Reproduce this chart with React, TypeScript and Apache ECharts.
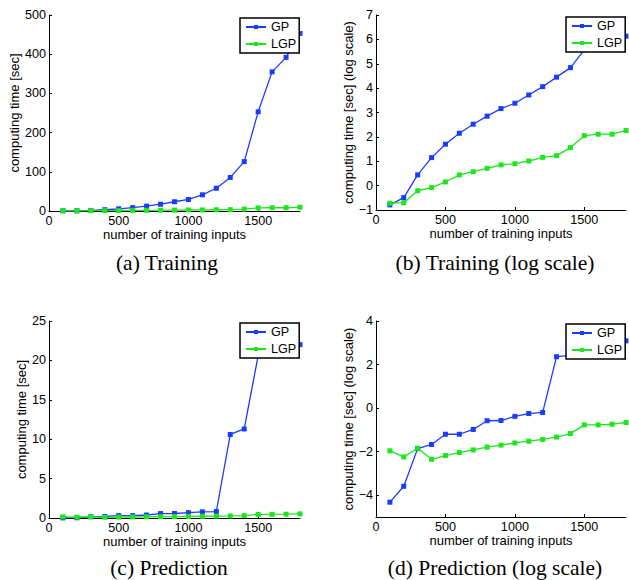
import React, { useEffect, useRef } from "react";
import * as echarts from "echarts";

const inputs = [100, 200, 300, 400, 500, 600, 700, 800, 900, 1000, 1100, 1200, 1300, 1400, 1500, 1600, 1700, 1800];

const trainGP = [0.5, 0.6, 1.5, 3.2, 5.5, 8.6, 12.4, 17.3, 23.6, 29.4, 41.3, 58, 85.6, 126, 253, 355, 392, 453];
const trainLGP = [0.5, 0.5, 0.8, 0.9, 1.2, 1.6, 1.8, 2.0, 2.3, 2.5, 2.7, 3.2, 3.4, 4.8, 7.8, 8.3, 8.3, 9.5];

const trainGPLog = [-0.79, -0.49, 0.44, 1.15, 1.7, 2.15, 2.52, 2.85, 3.16, 3.38, 3.72, 4.06, 4.45, 4.84, 5.57, 5.87, 5.97, 6.13];
const trainLGPLog = [-0.72, -0.7, -0.21, -0.08, 0.15, 0.44, 0.57, 0.71, 0.85, 0.9, 1.01, 1.16, 1.23, 1.56, 2.05, 2.11, 2.11, 2.26];

const predGP = [0.013, 0.028, 0.16, 0.19, 0.3, 0.3, 0.38, 0.56, 0.57, 0.68, 0.78, 0.82, 10.6, 11.3, 20.6, 21.2, 21.7, 22.0];
const predLGP = [0.14, 0.11, 0.16, 0.095, 0.11, 0.13, 0.15, 0.17, 0.18, 0.2, 0.22, 0.24, 0.26, 0.31, 0.46, 0.46, 0.48, 0.52];

const predGPLog = [-4.32, -3.59, -1.86, -1.67, -1.2, -1.2, -0.98, -0.58, -0.57, -0.38, -0.25, -0.2, 2.36, 2.42, 3.0, 3.05, 3.08, 3.09];
const predLGPLog = [-1.96, -2.24, -1.84, -2.35, -2.18, -2.04, -1.92, -1.79, -1.7, -1.6, -1.52, -1.44, -1.33, -1.17, -0.77, -0.77, -0.74, -0.66];

const xTicks = [0, 500, 1000, 1500];
const captions = ["(a) Training", "(b) Training (log scale)", "(c) Prediction", "(d) Prediction (log scale)"];
const xTitle = "number of training inputs";
const yTitles = ["computing time [sec]", "computing time [sec] (log scale)", "computing time [sec]", "computing time [sec] (log scale)"];
const seriesNames = ["GP", "LGP"];

const BLUE = "#1a3cff";
const GREEN = "#1ee61e";
const SANS = "Liberation Sans";
const SERIF = "Liberation Serif";

const fmt = (v: number) => String(v).replace("-", "\u2212");

export default function App() {
  const ref = useRef<HTMLDivElement>(null);
  useEffect(() => {
    if (!ref.current) return;
    const chart = echarts.init(ref.current, null, { renderer: "svg" });

    const grids = [
      { left: 49, top: 15, width: 251, height: 196 },
      { left: 376, top: 15, width: 250, height: 195 },
      { left: 49, top: 321, width: 251, height: 197 },
      { left: 376, top: 321, width: 250, height: 196 },
    ];
    const yCfg = [
      { min: 0, max: 500, interval: 100, gap: 27 },
      { min: -1, max: 7, interval: 1, gap: 21 },
      { min: 0, max: 25, interval: 5, gap: 20 },
      { min: -5, max: 4, interval: 1, gap: 21, custom: [-4, -2, 0, 2, 4] },
    ];
    const panels = [
      [trainGP, trainLGP],
      [trainGPLog, trainLGPLog],
      [predGP, predLGP],
      [predGPLog, predLGPLog],
    ];
    const legendPos = [
      { left: 240, top: 18 },
      { left: 566, top: 17 },
      { left: 240, top: 323 },
      { left: 566, top: 324 },
    ];
    const captionPos = [
      [167, 263],
      [495, 263],
      [169, 568],
      [495, 568],
    ];

    const axisLine = { show: true, lineStyle: { color: "#000", width: 1 } };
    const labelStyle = { color: "#000", fontSize: 12.6, fontFamily: SANS };
    const titleStyle = { color: "#000", fontSize: 13, fontFamily: SANS };

    const xAxis = grids.map((_, i) => ({
      type: "value",
      gridIndex: i,
      min: 0,
      max: 1800,
      interval: 500,
      name: xTitle,
      nameLocation: "middle",
      nameGap: 17,
      nameTextStyle: titleStyle,
      axisLine: { ...axisLine, onZero: false },
      axisTick: { show: true, inside: true, length: 3, lineStyle: { color: "#000" }, customValues: xTicks },
      axisLabel: { ...labelStyle, margin: 3, customValues: xTicks, formatter: fmt },
      splitLine: { show: false },
    }));

    const yAxis = grids.map((_, i) => {
      const c = yCfg[i];
      const custom: any = c.custom ? { customValues: c.custom } : {};
      return {
        type: "value",
        gridIndex: i,
        min: c.min,
        max: c.max,
        interval: c.interval,
        name: yTitles[i],
        nameLocation: "middle",
        nameGap: c.gap,
        nameTextStyle: titleStyle,
        axisLine: { ...axisLine, onZero: false },
        axisTick: { show: true, inside: true, length: 3, lineStyle: { color: "#000" }, ...custom },
        axisLabel: { ...labelStyle, margin: 3, formatter: fmt, ...custom },
        splitLine: { show: false },
      };
    });

    const series: any[] = [];
    panels.forEach((pair, i) => {
      pair.forEach((vals, k) => {
        series.push({
          type: "line",
          name: seriesNames[k],
          xAxisIndex: i,
          yAxisIndex: i,
          data: inputs.map((x, j) => [x, vals[j]]),
          symbol: "rect",
          symbolSize: 5,
          showSymbol: true,
          color: k === 0 ? BLUE : GREEN,
          lineStyle: { width: 1.3, color: k === 0 ? BLUE : GREEN },
          itemStyle: { color: k === 0 ? BLUE : GREEN },
          z: 2 + k,
        });
      });
    });

    const legend = legendPos.map((p) => ({
      left: p.left,
      top: p.top,
      orient: "vertical",
      data: seriesNames,
      itemWidth: 20,
      itemHeight: 5,
      itemGap: 3,
      itemTextGap: 2,
      padding: [2, 3, 2, 5],
      backgroundColor: "#fff",
      borderColor: "#000",
      borderWidth: 1.5,
      borderRadius: 0,
      selectedMode: false,
      textStyle: { color: "#000", fontSize: 12.6, fontFamily: SANS, lineHeight: 14 },
    }));

    const graphic = captions.map((t, i) => ({
      type: "text",
      x: captionPos[i][0],
      y: captionPos[i][1],
      style: {
        text: t,
        fill: "#000",
        fontSize: 21.5,
        fontFamily: SERIF,
        align: "center",
        verticalAlign: "middle",
      },
    }));

    chart.setOption({
      animation: false,
      backgroundColor: "#fff",
      grid: grids,
      xAxis,
      yAxis,
      legend,
      series,
      graphic,
    } as any);

    return () => chart.dispose();
  }, []);

  return (
    <div
      ref={ref}
      style={{ position: "fixed", left: 0, top: 0, width: 629, height: 580, background: "#fff" }}
    />
  );
}
